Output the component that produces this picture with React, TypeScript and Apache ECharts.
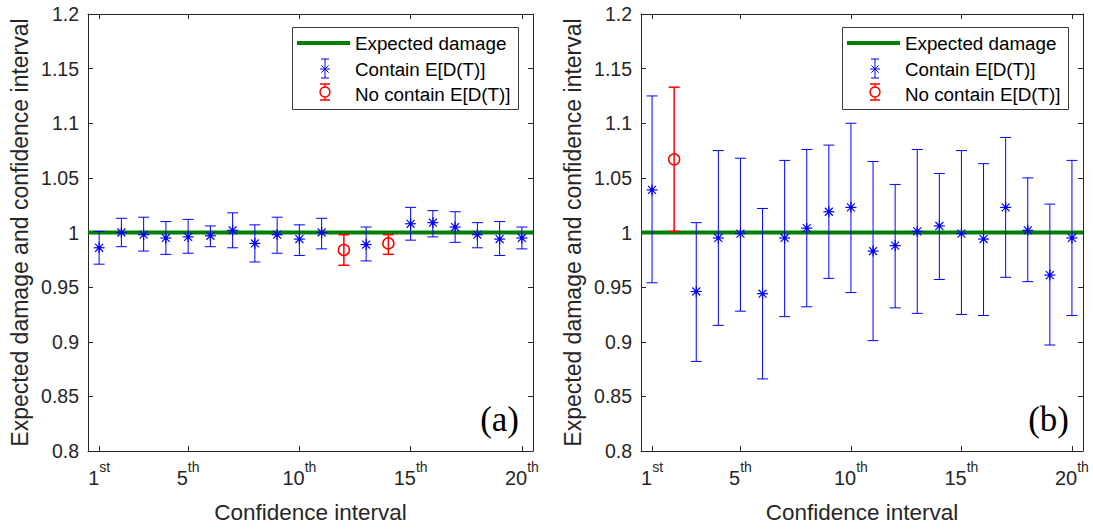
import React, { useEffect, useRef } from 'react';
import * as echarts from 'echarts';

// ---------- data ----------
const ciIndex = [1, 2, 3, 4, 5, 6, 7, 8, 9, 10, 11, 12, 13, 14, 15, 16, 17, 18, 19, 20];
const expectedDamage = 1.0;

// panel (a)
const meanA = [0.986, 1.000, 0.998, 0.995, 0.996, 0.997, 1.002, 0.990, 0.998, 0.994, 1.000, 0.984, 0.989, 0.990, 1.008, 1.009, 1.005, 0.998, 0.994, 0.995];
const upperA = [1.001, 1.013, 1.014, 1.010, 1.012, 1.006, 1.018, 1.007, 1.014, 1.007, 1.013, 0.998, 1.005, 0.998, 1.023, 1.020, 1.019, 1.009, 1.010, 1.005];
const lowerA = [0.971, 0.987, 0.983, 0.980, 0.981, 0.987, 0.986, 0.973, 0.981, 0.979, 0.985, 0.970, 0.974, 0.980, 0.993, 0.996, 0.991, 0.986, 0.979, 0.985];

// panel (b)
const meanB = [1.039, 1.067, 0.946, 0.995, 0.999, 0.944, 0.995, 1.004, 1.019, 1.023, 0.983, 0.988, 1.001, 1.006, 0.999, 0.994, 1.023, 1.002, 0.961, 0.995];
const upperB = [1.125, 1.133, 1.009, 1.075, 1.068, 1.022, 1.066, 1.076, 1.080, 1.100, 1.065, 1.044, 1.076, 1.054, 1.075, 1.063, 1.087, 1.050, 1.026, 1.066];
const lowerB = [0.954, 1.001, 0.882, 0.915, 0.928, 0.866, 0.923, 0.932, 0.958, 0.945, 0.901, 0.931, 0.926, 0.957, 0.925, 0.924, 0.959, 0.955, 0.897, 0.924];

const xTickValues = [1, 5, 10, 15, 20];
const xTickSuffix = ['st', 'th', 'th', 'th', 'th'];
const yMin = 0.8;
const yMax = 1.2;
const yStep = 0.05;

const legendNames = ['Expected damage', 'Contain E[D(T)]', 'No contain E[D(T)]'];
const panelTags = ['(a)', '(b)'];
const xName = 'Confidence interval';
const yName = 'Expected damage and confidence interval';

// ---------- style ----------
const AXIS = '#262626';
const BLUE = '#0000ff';
const RED = '#ff0000';
const GREEN = '#008000';
const FONT = '"Liberation Sans", Arial, Helvetica, sans-serif';

const W = 1093;
const H = 529;
const GRID_TOP = 14;
const GRID_H = 440;
const panels = [
  { left: 88, width: 445, mean: meanA, lower: lowerA, upper: upperA },
  { left: 641, width: 442, mean: meanB, lower: lowerB, upper: upperB },
];

function makeErrorRenderer(color: string, kind: 'star' | 'circle') {
  return (params: any, api: any) => {
    const x = api.value(0);
    const m = api.value(1);
    const lo = api.value(2);
    const hi = api.value(3);
    const pm = api.coord([x, m]);
    const pl = api.coord([x, lo]);
    const ph = api.coord([x, hi]);
    const cap = 5.5;
    const lw = kind === 'circle' ? 1.5 : 1;
    const st = { stroke: color, lineWidth: lw, fill: 'none' };
    const children: any[] = [
      { type: 'line', shape: { x1: pl[0], y1: pl[1], x2: ph[0], y2: ph[1] }, style: st },
      { type: 'line', shape: { x1: pl[0] - cap, y1: pl[1], x2: pl[0] + cap, y2: pl[1] }, style: st },
      { type: 'line', shape: { x1: ph[0] - cap, y1: ph[1], x2: ph[0] + cap, y2: ph[1] }, style: st },
    ];
    if (kind === 'circle') {
      children.push({ type: 'circle', shape: { cx: pm[0], cy: pm[1], r: 5.5 }, style: { stroke: color, lineWidth: 1.5, fill: 'none' } });
    } else {
      const r = 5.5;
      const d = r * 0.72;
      const ms = { stroke: color, lineWidth: 1.2 };
      children.push(
        { type: 'line', shape: { x1: pm[0] - r, y1: pm[1], x2: pm[0] + r, y2: pm[1] }, style: ms },
        { type: 'line', shape: { x1: pm[0], y1: pm[1] - r, x2: pm[0], y2: pm[1] + r }, style: ms },
        { type: 'line', shape: { x1: pm[0] - d, y1: pm[1] - d, x2: pm[0] + d, y2: pm[1] + d }, style: ms },
        { type: 'line', shape: { x1: pm[0] - d, y1: pm[1] + d, x2: pm[0] + d, y2: pm[1] - d }, style: ms },
        { type: 'circle', shape: { cx: pm[0], cy: pm[1], r: 1.8 }, style: { fill: color } },
      );
    }
    return { type: 'group', children };
  };
}

function legendGraphics(boxLeft: number): any[] {
  const top = 27;
  const rows = [43, 69, 94];
  const mx = boxLeft + 33;
  const els: any[] = [
    { type: 'rect', z: 10, shape: { x: boxLeft + 0.5, y: top + 0.5, width: 226, height: 82 }, style: { fill: '#ffffff', stroke: '#3a3a3a', lineWidth: 1 } },
    { type: 'line', z: 11, shape: { x1: boxLeft + 5, y1: rows[0], x2: boxLeft + 58, y2: rows[0] }, style: { stroke: GREEN, lineWidth: 4 } },
  ];
  const b = { stroke: BLUE, lineWidth: 1 };
  els.push(
    { type: 'line', z: 11, shape: { x1: mx, y1: rows[1] - 10, x2: mx, y2: rows[1] + 9 }, style: b },
    { type: 'line', z: 11, shape: { x1: mx - 4, y1: rows[1] - 10, x2: mx + 4, y2: rows[1] - 10 }, style: b },
    { type: 'line', z: 11, shape: { x1: mx - 4, y1: rows[1] + 9, x2: mx + 4, y2: rows[1] + 9 }, style: b },
    { type: 'line', z: 11, shape: { x1: mx - 5, y1: rows[1], x2: mx + 5, y2: rows[1] }, style: b },
    { type: 'line', z: 11, shape: { x1: mx - 3.6, y1: rows[1] - 3.6, x2: mx + 3.6, y2: rows[1] + 3.6 }, style: b },
    { type: 'line', z: 11, shape: { x1: mx - 3.6, y1: rows[1] + 3.6, x2: mx + 3.6, y2: rows[1] - 3.6 }, style: b },
  );
  const r = { stroke: RED, lineWidth: 1.5 };
  const ry = rows[2] - 2;
  els.push(
    { type: 'line', z: 11, shape: { x1: mx, y1: ry - 8, x2: mx, y2: ry + 8 }, style: r },
    { type: 'line', z: 11, shape: { x1: mx - 5, y1: ry - 8, x2: mx + 5, y2: ry - 8 }, style: r },
    { type: 'line', z: 11, shape: { x1: mx - 5, y1: ry + 8, x2: mx + 5, y2: ry + 8 }, style: r },
    { type: 'circle', z: 11, shape: { cx: mx, cy: ry, r: 5 }, style: { stroke: RED, lineWidth: 1.5, fill: '#fff' } },
  );
  legendNames.forEach((name, i) => {
    els.push({
      type: 'text', z: 11, x: boxLeft + 63, y: rows[i],
      style: { text: name, fontSize: 18.8, fontFamily: FONT, fill: '#000', textVerticalAlign: 'middle', textAlign: 'left' },
    });
  });
  return els;
}

function buildOption(): any {
  const grid: any[] = [];
  const xAxis: any[] = [];
  const yAxis: any[] = [];
  const series: any[] = [];
  const graphic: any[] = [];

  panels.forEach((p, pi) => {
    grid.push({ left: p.left, top: GRID_TOP, width: p.width, height: GRID_H, containLabel: false });
    const xBase = {
      type: 'value', gridIndex: pi, min: 0.5, max: 20.5,
      splitLine: { show: false },
      axisLine: { show: true, onZero: false, lineStyle: { color: AXIS, width: 1 } },
      axisTick: { show: true, inside: true, length: 5, customValues: xTickValues, lineStyle: { color: AXIS } },
    };
    xAxis.push({
      ...xBase,
      position: 'bottom',
      name: xName, nameLocation: 'middle', nameGap: 50,
      nameTextStyle: { fontSize: 22.5, fontFamily: FONT, color: AXIS },
      axisLabel: {
        show: true, margin: 9, customValues: xTickValues, color: AXIS,
        fontSize: 20, fontFamily: FONT,
        formatter: (v: number) => {
          const n = Math.round(v);
          const i = xTickValues.indexOf(n);
          return `{n|${n}}{s|${xTickSuffix[i] ?? 'th'}}`;
        },
        rich: {
          n: { fontSize: 20, fontFamily: FONT, color: AXIS, lineHeight: 36, verticalAlign: 'middle' },
          s: { fontSize: 14, fontFamily: FONT, color: AXIS, lineHeight: 14, verticalAlign: 'top' },
        },
      },
    });
    xAxis.push({ ...xBase, position: 'top', axisLabel: { show: false } });

    const yBase = {
      type: 'value', gridIndex: pi, min: yMin, max: yMax, interval: yStep,
      splitLine: { show: false },
      axisLine: { show: true, lineStyle: { color: AXIS, width: 1 } },
      axisTick: { show: true, inside: true, length: 5, lineStyle: { color: AXIS } },
    };
    yAxis.push({
      ...yBase,
      position: 'left',
      name: yName, nameLocation: 'middle', nameGap: 57, nameRotate: 90,
      nameTextStyle: { fontSize: 23, fontFamily: FONT, color: AXIS },
      axisLabel: {
        show: true, margin: 9, color: AXIS, fontSize: 19.5, fontFamily: FONT,
        formatter: (v: number) => String(parseFloat(v.toFixed(2))),
      },
    });
    yAxis.push({ ...yBase, position: 'right', axisLabel: { show: false } });

    const xi = pi * 2;
    const yi = pi * 2;

    series.push({
      type: 'line', name: legendNames[0], xAxisIndex: xi, yAxisIndex: yi,
      data: [[0.5, expectedDamage], [20.5, expectedDamage]],
      symbol: 'none', lineStyle: { color: GREEN, width: 4 }, z: 2, silent: true,
    });

    const contain: any[] = [];
    const noContain: any[] = [];
    ciIndex.forEach((c, i) => {
      const item = [c, p.mean[i], p.lower[i], p.upper[i]];
      if (p.lower[i] <= expectedDamage && p.upper[i] >= expectedDamage) contain.push(item);
      else noContain.push(item);
    });
    series.push({
      type: 'custom', name: legendNames[1], xAxisIndex: xi, yAxisIndex: yi,
      data: contain, encode: { x: 0, y: 1 }, z: 3,
      renderItem: makeErrorRenderer(BLUE, 'star'),
    });
    series.push({
      type: 'custom', name: legendNames[2], xAxisIndex: xi, yAxisIndex: yi,
      data: noContain, encode: { x: 0, y: 1 }, z: 3,
      renderItem: makeErrorRenderer(RED, 'circle'),
    });

    const right = p.left + p.width;
    graphic.push(...legendGraphics(right - 241));
    graphic.push({
      type: 'text', z: 11, x: right - 14, y: 419,
      style: { text: panelTags[pi], fontSize: 35, fontFamily: '"Liberation Serif", "Times New Roman", serif', fill: '#000', textAlign: 'right', textVerticalAlign: 'middle' },
    });
  });

  return {
    animation: false,
    backgroundColor: '#ffffff',
    grid, xAxis, yAxis, series, graphic,
  };
}

export default function App() {
  const ref = useRef<HTMLDivElement>(null);
  useEffect(() => {
    if (!ref.current) return;
    const chart = echarts.init(ref.current, undefined, { renderer: 'svg' });
    chart.setOption(buildOption());
    return () => chart.dispose();
  }, []);
  return (
    <div
      ref={ref}
      style={{ position: 'fixed', left: 0, top: 0, width: W, height: H, background: '#fff' }}
    />
  );
}
